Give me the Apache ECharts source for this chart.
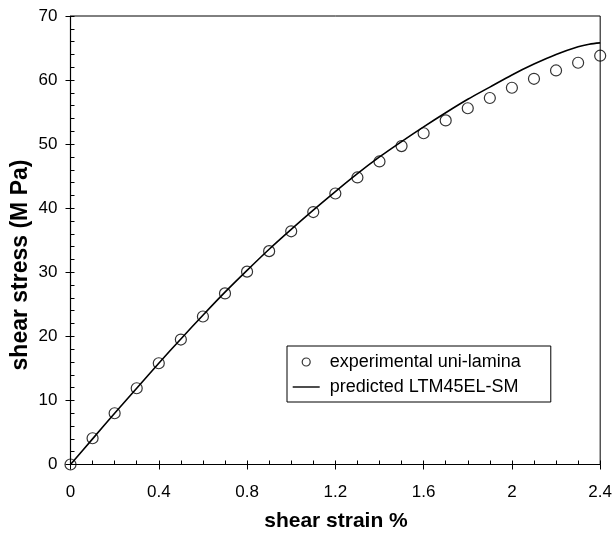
<!DOCTYPE html>
<html>
<head>
<meta charset="utf-8">
<script src="https://cdn.jsdelivr.net/npm/echarts@6/dist/echarts.min.js"></script>
<style>html,body{margin:0;padding:0;background:#fff;}#c{width:615px;height:534px;}</style>
</head>
<body>
<div id="c"></div>
<script>
// Data
var expStrain = [0, 0.1, 0.2, 0.3, 0.4, 0.5, 0.6, 0.7, 0.8, 0.9, 1.0, 1.1, 1.2, 1.3, 1.4, 1.5, 1.6, 1.7, 1.8, 1.9, 2.0, 2.1, 2.2, 2.3, 2.4];
var expStress = [0, 4.1, 8.0, 11.9, 15.8, 19.5, 23.1, 26.7, 30.1, 33.3, 36.4, 39.4, 42.3, 44.8, 47.3, 49.7, 51.7, 53.7, 55.6, 57.2, 58.8, 60.2, 61.5, 62.7, 63.8];
var predStrain = [0, 0.1, 0.2, 0.3, 0.4, 0.5, 0.6, 0.7, 0.8, 0.9, 1.0, 1.1, 1.2, 1.3, 1.4, 1.5, 1.6, 1.7, 1.8, 1.9, 2.0, 2.1, 2.2, 2.3, 2.35, 2.4];
var predStress = [0, 4.0, 8.0, 11.9, 15.8, 19.6, 23.3, 26.9, 30.3, 33.6, 36.7, 39.7, 42.6, 45.4, 48.0, 50.4, 52.7, 54.9, 57.0, 58.9, 60.8, 62.5, 64.0, 65.2, 65.6, 65.8];
var xTicks = [0, 0.4, 0.8, 1.2, 1.6, 2, 2.4];
var yTicks = [0, 10, 20, 30, 40, 50, 60, 70];
var seriesNames = ['experimental uni-lamina', 'predicted LTM45EL-SM'];
var xTitle = 'shear strain %';
var yTitle = 'shear stress (M Pa)';

function pairs(xs, ys) { return xs.map(function (x, i) { return [x, ys[i]]; }); }

var FONT = 'Arial, "Liberation Sans", sans-serif';
var chart = echarts.init(document.getElementById('c'), null, { renderer: 'canvas' });

var xMin = xTicks[0], xMax = xTicks[xTicks.length - 1], xInt = xTicks[1] - xTicks[0];
var yMin = yTicks[0], yMax = yTicks[yTicks.length - 1], yInt = yTicks[1] - yTicks[0];

function fmt(v) { return String(Math.round(v * 10) / 10); }

chart.setOption({
  animation: false,
  backgroundColor: '#fff',
  grid: { left: 70.5, right: 13, top: 16, bottom: 69.5, show: true, borderColor: '#000', borderWidth: 1, backgroundColor: 'transparent' },
  xAxis: [
    {
      type: 'value', min: xMin, max: xMax, interval: xInt, position: 'bottom',
      axisLine: { show: true, lineStyle: { color: '#000', width: 1.2 } },
      axisTick: { show: true, inside: false, length: 5, lineStyle: { color: '#000', width: 1 } },
      minorTick: { show: false },
      splitLine: { show: false },
      axisLabel: { show: true, color: '#000', fontSize: 17, fontFamily: FONT, margin: 19, formatter: fmt }
    },
    {
      type: 'value', min: xMin, max: xMax, interval: xInt, position: 'bottom',
      axisLine: { show: false },
      axisTick: { show: true, inside: true, length: 4, lineStyle: { color: '#000', width: 1 } },
      minorTick: { show: true, splitNumber: 4, length: 4, lineStyle: { color: '#000', width: 1 } },
      splitLine: { show: false },
      axisLabel: { show: false }
    }
  ],
  yAxis: [
    {
      type: 'value', min: yMin, max: yMax, interval: yInt, position: 'left',
      axisLine: { show: true, lineStyle: { color: '#000', width: 1.2 } },
      axisTick: { show: true, inside: false, length: 5, lineStyle: { color: '#000', width: 1 } },
      minorTick: { show: false },
      splitLine: { show: false },
      axisLabel: { show: true, color: '#000', fontSize: 17, fontFamily: FONT, margin: 13 }
    },
    {
      type: 'value', min: yMin, max: yMax, interval: yInt, position: 'left',
      axisLine: { show: false },
      axisTick: { show: true, inside: true, length: 4, lineStyle: { color: '#000', width: 1 } },
      minorTick: { show: true, splitNumber: 5, length: 4, lineStyle: { color: '#000', width: 1 } },
      splitLine: { show: false },
      axisLabel: { show: false }
    }
  ],
  legend: {
    orient: 'vertical',
    left: 287, top: 346,
    padding: [7, 30, 6, 5],
    itemGap: 7,
    itemWidth: 27, itemHeight: 8,
    borderColor: '#000', borderWidth: 1,
    backgroundColor: '#fff',
    textStyle: { color: '#000', fontSize: 18, fontFamily: FONT, lineHeight: 18, padding: [0, 0, 0, 5] },
    data: [
      { name: seriesNames[0], icon: 'circle', itemStyle: { color: 'transparent', borderColor: '#000', borderWidth: 1.2 } },
      { name: seriesNames[1], itemStyle: { color: 'transparent', borderColor: 'transparent', borderWidth: 0, opacity: 0 }, lineStyle: { color: '#000', width: 1.4 } }
    ]
  },
  graphic: [
    { type: 'text', x: 336, y: 521, style: { text: xTitle, font: 'bold 21px ' + FONT, fill: '#000', textAlign: 'center', textVerticalAlign: 'middle' } },
    { type: 'text', x: 21, y: 265, rotation: Math.PI / 2, style: { text: yTitle, font: 'bold 23px ' + FONT, fill: '#000', textAlign: 'center', textVerticalAlign: 'middle' } }
  ],
  series: [
    {
      name: seriesNames[0], type: 'scatter', xAxisIndex: 0, yAxisIndex: 0,
      data: pairs(expStrain, expStress),
      symbol: 'circle', symbolSize: 11, z: 3,
      itemStyle: { color: 'transparent', borderColor: '#000', borderWidth: 1.2 }
    },
    {
      name: seriesNames[1], type: 'line', xAxisIndex: 0, yAxisIndex: 0,
      data: pairs(predStrain, predStress),
      symbol: 'none', smooth: 0.3, z: 2,
      lineStyle: { color: '#000', width: 1.6 },
      itemStyle: { color: '#000' }
    }
  ]
});
</script>
</body>
</html>
